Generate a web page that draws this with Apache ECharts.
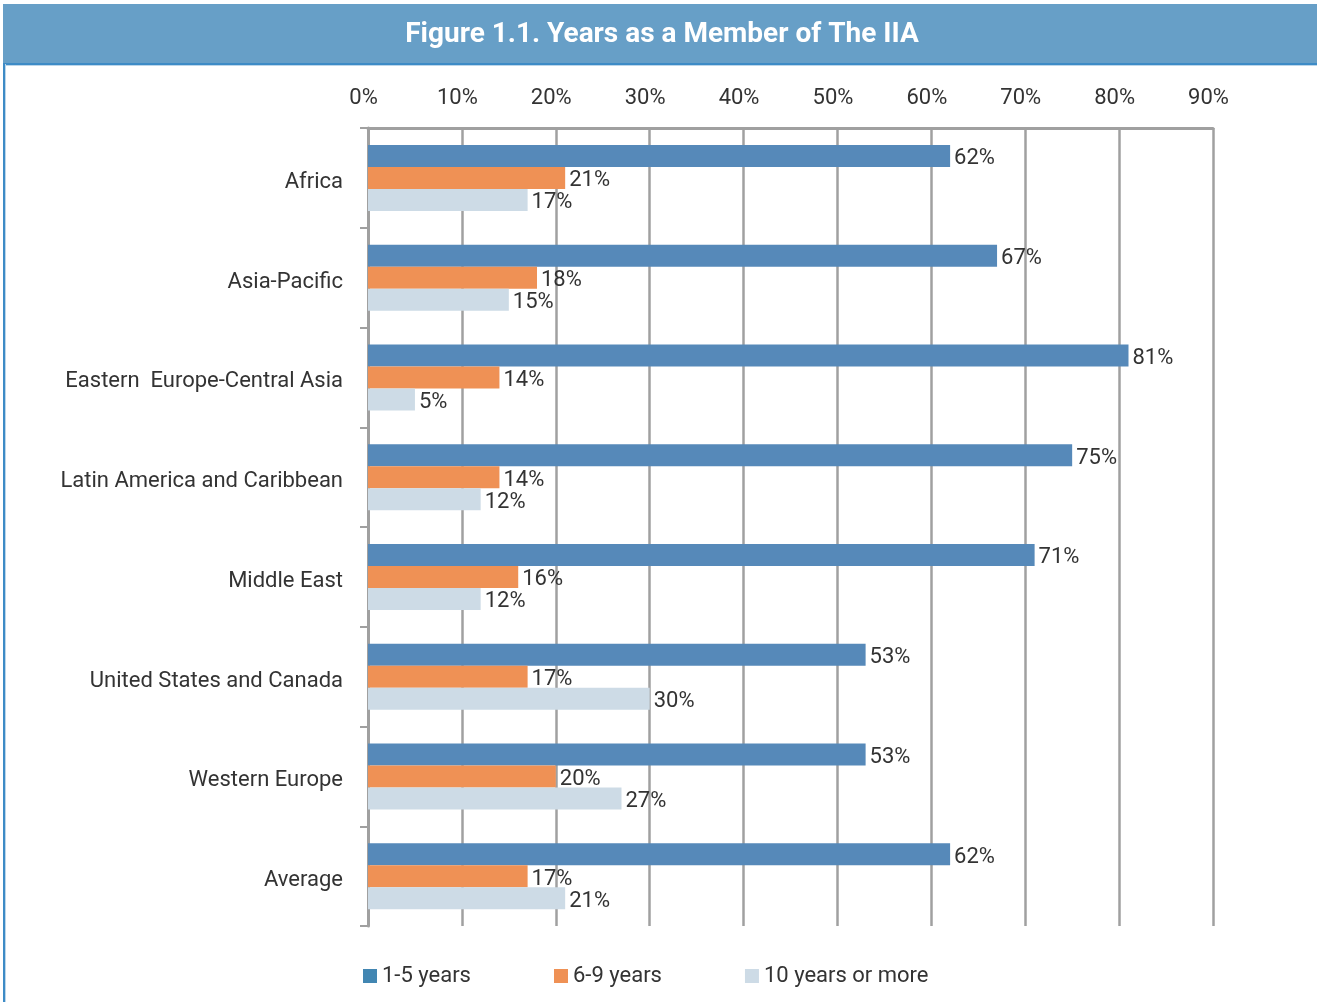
<!DOCTYPE html>
<html>
<head>
<meta charset="utf-8">
<style>
  html, body { margin: 0; padding: 0; background: #ffffff; }
  #chart { width: 1317px; height: 1002px; }
</style>
<script src="https://cdn.jsdelivr.net/npm/echarts@6/dist/echarts.min.js"></script>
</head>
<body>
<div id="chart"></div>
<script>
// Regions, top to bottom
const regions = [
  'Africa',
  'Asia-Pacific',
  'Eastern  Europe-Central Asia',
  'Latin America and Caribbean',
  'Middle East',
  'United States and Canada',
  'Western Europe',
  'Average'
];

// Share of respondents (%) by years of membership
const years1to5 = [62, 67, 81, 75, 71, 53, 53, 62];
const years6to9 = [21, 18, 14, 14, 16, 17, 20, 17];
const years10plus = [17, 15, 5, 12, 12, 30, 27, 21];

const seriesNames = ['1-5 years', '6-9 years', '10 years or more'];
const barColors = ['#5689b9', '#ef9155', '#cddbe6'];
const legendColors = ['#4286b2', '#ef9155', '#cddbe6'];

const axisTicks = [0, 10, 20, 30, 40, 50, 60, 70, 80, 90];

const FONT = 'Roboto, "Liberation Sans", sans-serif';
const TEXT_SIZE = 22;

const chart = echarts.init(document.getElementById('chart'), null, { renderer: 'canvas' });

function barSeries(name, data, color) {
  return {
    name: name,
    type: 'bar',
    data: data,
    barWidth: 22,
    barGap: '0%',
    itemStyle: { color: color },
    label: {
      show: true,
      position: 'right',
      distance: 4,
      offset: [0, 3],
      formatter: '{c}%',
      fontFamily: FONT,
      fontSize: TEXT_SIZE,
      color: '#333333'
    },
    z: 3
  };
}

chart.setOption({
  backgroundColor: '#ffffff',
  animation: false,
  textStyle: { fontFamily: FONT },
  graphic: [
    // title band
    { type: 'rect', shape: { x: 3, y: 4, width: 1314, height: 60 }, style: { fill: '#679fc7' }, silent: true },
    { type: 'rect', shape: { x: 3, y: 63, width: 1314, height: 2 }, style: { fill: '#3d8bc6' }, silent: true },
    { type: 'rect', shape: { x: 3, y: 65, width: 1314, height: 1 }, style: { fill: '#bcd6ea' }, silent: true },
    // left frame line
    { type: 'rect', shape: { x: 3, y: 64, width: 2, height: 938 }, style: { fill: '#3d8bc6' }, silent: true },
    { type: 'rect', shape: { x: 5, y: 64, width: 1, height: 938 }, style: { fill: '#bcd6ea' }, silent: true },
    {
      type: 'text',
      x: 662,
      y: 35,
      style: {
        text: 'Figure 1.1. Years as a Member of The IIA',
        fontFamily: FONT,
        fontWeight: 'bold',
        fontSize: 28,
        fill: '#ffffff',
        align: 'center',
        verticalAlign: 'middle'
      },
      silent: true
    }
  ],
  legend: {
    left: 363,
    top: 965,
    padding: 0,
    itemWidth: 14,
    itemHeight: 14,
    itemGap: 83,
    icon: 'rect',
    textStyle: { fontFamily: FONT, fontSize: TEXT_SIZE, color: '#333333' },
    data: seriesNames.map((n, i) => ({ name: n, itemStyle: { color: legendColors[i] } }))
  },
  grid: {
    left: 368,
    right: 104,
    top: 128,
    bottom: 76,
    containLabel: false
  },
  xAxis: {
    type: 'value',
    position: 'top',
    min: axisTicks[0],
    max: axisTicks[axisTicks.length - 1],
    interval: 10,
    axisLine: { show: true, lineStyle: { color: '#a0a0a0', width: 3 } },
    axisTick: { show: false },
    axisLabel: {
      formatter: '{value}%',
      fontFamily: FONT,
      fontSize: TEXT_SIZE,
      color: '#333333',
      margin: 19,
      padding: [0, 9, 0, 0]
    },
    splitLine: { show: true, lineStyle: { color: '#a0a0a0', width: 2.5 } }
  },
  yAxis: {
    type: 'category',
    inverse: true,
    data: regions,
    axisLine: { show: true, lineStyle: { color: '#a0a0a0', width: 3 } },
    axisTick: { show: true, length: 8, lineStyle: { color: '#a0a0a0', width: 2 } },
    axisLabel: {
      margin: 25,
      formatter: v => '{r|' + v + '}',
      rich: {
        r: {
          fontFamily: FONT,
          fontSize: TEXT_SIZE,
          color: '#333333',
          padding: [9, 0, 0, 0]
        }
      }
    },
    splitLine: { show: false }
  },
  series: [
    barSeries(seriesNames[0], years1to5, barColors[0]),
    barSeries(seriesNames[1], years6to9, barColors[1]),
    barSeries(seriesNames[2], years10plus, barColors[2])
  ]
});
</script>
</body>
</html>
